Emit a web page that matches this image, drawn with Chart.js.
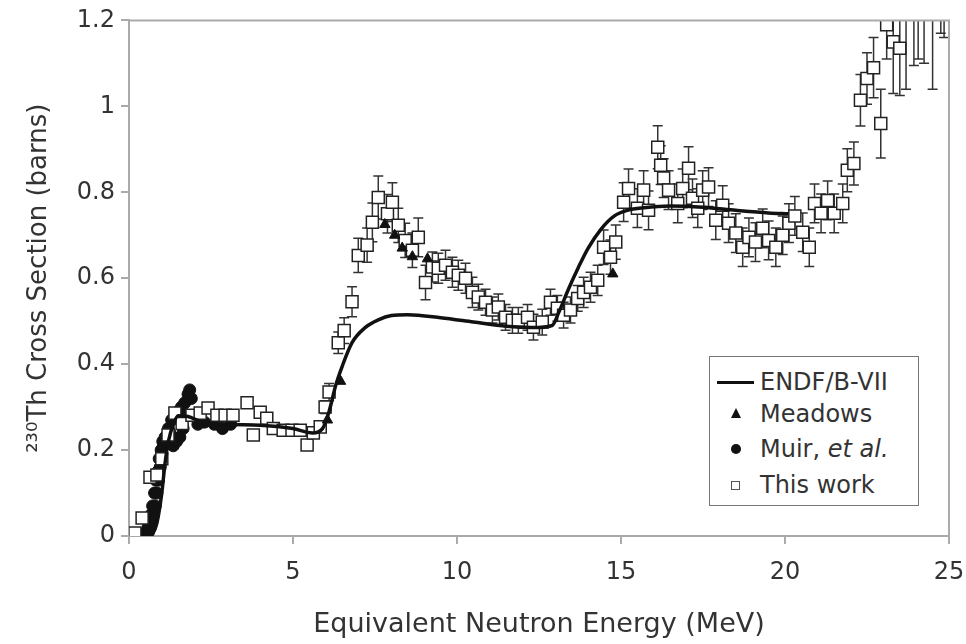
<!DOCTYPE html>
<html>
<head>
<meta charset="utf-8">
<script src="https://cdn.jsdelivr.net/npm/chart.js@4"></script>
<style>
  html, body { margin: 0; padding: 0; background: #fff; }
  #wrap { position: relative; width: 966px; height: 644px; }
  #legend {
    position: absolute; left: 709px; top: 356px; width: 208px; height: 148px;
    border: 1.5px solid #777; background: #fff;
    font-family: "DejaVu Sans", Verdana, sans-serif; font-size: 24px; color: #333;
  }
  .row { position: absolute; left: 50px; height: 30px; line-height: 30px; white-space: nowrap; }
  .sym { position: absolute; }
</style>
</head>
<body>
<div id="wrap">
  <canvas id="chart" width="966" height="644"></canvas>
  <div id="legend">
    <div class="sym" style="left:7px; top:24px; width:37px; height:3px; background:#111;"></div>
    <div class="row" style="top:10px;">ENDF/B-VII</div>
    <div class="sym" style="left:21px; top:51px; width:0; height:0; border-left:5px solid transparent; border-right:5px solid transparent; border-bottom:10px solid #111;"></div>
    <div class="row" style="top:42px;">Meadows</div>
    <div class="sym" style="left:21px; top:87px; width:10px; height:10px; border-radius:50%; background:#111;"></div>
    <div class="row" style="top:77px;">Muir, <i>et al.</i></div>
    <div class="sym" style="left:21px; top:124px; width:7px; height:7px; border:1.5px solid #555;"></div>
    <div class="row" style="top:113px;">This work</div>
  </div>
</div>
<script>
// ENDF/B-VII evaluation
const endfE = [0.5, 0.7, 0.85, 1.0, 1.1, 1.2, 1.35, 1.5, 1.8, 2.2, 3, 4, 5, 5.6, 5.9, 6.1, 6.3, 6.5, 6.8, 7.2, 7.6, 8.0, 8.5, 9.5, 10.5, 11.5, 12.3, 12.9, 13.1, 13.4, 13.7, 14.0, 14.4, 14.8, 15.2, 15.7, 16.5, 17.5, 18.5, 19.5, 20.1];
const endfXS = [0.0, 0.005, 0.03, 0.1, 0.17, 0.22, 0.26, 0.28, 0.278, 0.266, 0.26, 0.258, 0.25, 0.24, 0.25, 0.29, 0.35, 0.395, 0.45, 0.485, 0.503, 0.513, 0.515, 0.508, 0.498, 0.488, 0.485, 0.49, 0.52, 0.575, 0.625, 0.67, 0.715, 0.745, 0.758, 0.764, 0.768, 0.765, 0.758, 0.752, 0.75];

// Meadows
const meadowsE = [6.05, 6.45, 7.8, 8.1, 8.33, 8.64, 9.1, 14.75];
const meadowsXS = [0.27, 0.36, 0.725, 0.70, 0.67, 0.65, 0.645, 0.61];

// Muir, et al.
const muirE = [0.4, 0.45, 0.5, 0.52, 0.55, 0.58, 0.6, 0.62, 0.65, 0.68, 0.7, 0.72, 0.75, 0.78, 0.8, 0.82, 0.85, 0.88, 0.9, 0.92, 0.95, 0.98, 1.0, 1.03, 1.06, 1.1, 1.15, 1.2, 1.25, 1.3, 1.35, 1.4, 1.45, 1.5, 1.55, 1.6, 1.65, 1.7, 1.75, 1.8, 1.85, 1.9, 2.0, 2.1, 2.3, 2.6, 2.85, 3.1];
const muirXS = [0.0, 0.0, 0.0, 0.01, 0.005, 0.02, 0.01, 0.03, 0.02, 0.05, 0.035, 0.07, 0.05, 0.1, 0.07, 0.13, 0.1, 0.15, 0.13, 0.18, 0.16, 0.2, 0.19, 0.22, 0.21, 0.23, 0.22, 0.25, 0.24, 0.27, 0.21, 0.28, 0.22, 0.29, 0.23, 0.3, 0.25, 0.31, 0.28, 0.33, 0.34, 0.32, 0.28, 0.26, 0.265, 0.26, 0.25, 0.26];

// This work
const thisE = [0.18, 0.4, 0.64, 0.85, 1.0, 1.19, 1.4, 1.62, 1.92, 2.17, 2.41, 2.68, 2.93, 3.17, 3.6, 3.79, 4.0, 4.2, 4.4, 4.7, 4.97, 5.22, 5.43, 5.62, 5.83, 5.98, 6.1, 6.38, 6.56, 6.8,
  6.99, 7.26, 7.42, 7.6, 7.88, 8.03, 8.21, 8.42, 8.64, 8.82, 9.04, 9.25, 9.43, 9.65, 9.86, 10.04, 10.26, 10.47, 10.65, 10.87, 11.08, 11.26, 11.48, 11.69, 11.87, 12.15, 12.33, 12.6, 12.85, 13.06, 13.25, 13.46, 13.68, 13.86, 14.07, 14.29, 14.47, 14.68, 14.84,
  15.08, 15.23, 15.5, 15.69, 15.84, 16.12, 16.21, 16.3, 16.45, 16.73, 16.88, 17.06, 17.18, 17.34, 17.49, 17.67, 17.89, 18.1, 18.28, 18.5, 18.71, 18.9, 19.1, 19.32, 19.5, 19.72, 19.93, 20.12,
  20.3, 20.54, 20.74, 20.9, 21.1, 21.3, 21.5, 21.76, 21.9, 22.1, 22.3, 22.5, 22.7, 22.92, 23.1, 23.3, 23.5, 23.69, 23.93, 24.06, 24.24, 24.5, 24.75, 24.85];
const thisXS = [0.007, 0.042, 0.137, 0.142, 0.18, 0.235, 0.286, 0.262, 0.281, 0.286, 0.298, 0.281, 0.281, 0.281, 0.31, 0.235, 0.288, 0.274, 0.25, 0.246, 0.246, 0.246, 0.212, 0.24, 0.254, 0.3, 0.335, 0.45, 0.478, 0.545,
  0.653, 0.677, 0.73, 0.788, 0.75, 0.777, 0.723, 0.688, 0.665, 0.695, 0.59, 0.626, 0.623, 0.63, 0.614, 0.607, 0.6, 0.567, 0.556, 0.544, 0.526, 0.533, 0.509, 0.502, 0.502, 0.509, 0.486, 0.498, 0.544, 0.53, 0.514, 0.526, 0.553, 0.567, 0.579, 0.595, 0.672, 0.649, 0.684,
  0.777, 0.809, 0.763, 0.805, 0.758, 0.905, 0.863, 0.833, 0.805, 0.774, 0.809, 0.856, 0.786, 0.763, 0.805, 0.812, 0.735, 0.77, 0.728, 0.705, 0.672, 0.695, 0.684, 0.716, 0.688, 0.672, 0.7, 0.728,
  0.745, 0.707, 0.672, 0.774, 0.751, 0.781, 0.751, 0.774, 0.851, 0.867, 1.014, 1.065, 1.09, 0.96, 1.19, 1.15, 1.135, 1.26, 1.25, 1.28, 1.3, 1.3, 1.23, 1.24];
const thisErr = [0.01, 0.01, 0.01, 0.01, 0.01, 0.01, 0.01, 0.01, 0.01, 0.01, 0.01, 0.01, 0.01, 0.01, 0.01, 0.01, 0.01, 0.01, 0.01, 0.01, 0.01, 0.01, 0.01, 0.01, 0.01, 0.015, 0.02, 0.025, 0.03, 0.035,
  0.04, 0.04, 0.045, 0.05, 0.045, 0.045, 0.04, 0.04, 0.04, 0.045, 0.04, 0.035, 0.035, 0.035, 0.035, 0.035, 0.035, 0.035, 0.03, 0.03, 0.03, 0.03, 0.03, 0.03, 0.03, 0.03, 0.03, 0.03, 0.03, 0.03, 0.03, 0.03, 0.03, 0.035, 0.035, 0.035, 0.04, 0.04, 0.04,
  0.045, 0.045, 0.045, 0.045, 0.045, 0.05, 0.045, 0.045, 0.045, 0.045, 0.045, 0.05, 0.045, 0.045, 0.045, 0.045, 0.045, 0.045, 0.045, 0.045, 0.045, 0.045, 0.045, 0.045, 0.045, 0.045, 0.045, 0.045,
  0.045, 0.045, 0.045, 0.045, 0.045, 0.045, 0.045, 0.045, 0.05, 0.05, 0.06, 0.06, 0.07, 0.08, 0.08, 0.12, 0.11, 0.22, 0.155, 0.17, 0.2, 0.26, 0.06, 0.08];

const xTicks = [0, 5, 10, 15, 20, 25];
const yTicks = [0, 0.2, 0.4, 0.6, 0.8, 1.0, 1.2];
const yTickLabels = ["0", "0.2", "0.4", "0.6", "0.8", "1", "1.2"];

const pts = (xs, ys) => xs.map((x, i) => ({ x: x, y: ys[i] }));
const font = "'DejaVu Sans', Verdana, sans-serif";
const axisGray = "#aaa";

// error bars for "This work", drawn just before its squares
const errorBars = {
  id: "errorBars",
  beforeDatasetDraw(chart, args) {
    if (args.index !== 3) return;
    const { ctx, chartArea: a, scales } = chart;
    ctx.save();
    ctx.beginPath();
    ctx.rect(a.left, a.top, a.right - a.left, a.bottom - a.top);
    ctx.clip();
    ctx.strokeStyle = "#333";
    ctx.lineWidth = 1.5;
    ctx.beginPath();
    thisE.forEach((e, i) => {
      const px = scales.x.getPixelForValue(e);
      const hi = scales.y.getPixelForValue(thisXS[i] + thisErr[i]);
      const lo = scales.y.getPixelForValue(thisXS[i] - thisErr[i]);
      ctx.moveTo(px, hi); ctx.lineTo(px, lo);
      ctx.moveTo(px - 5, hi); ctx.lineTo(px + 5, hi);
      ctx.moveTo(px - 5, lo); ctx.lineTo(px + 5, lo);
    });
    ctx.stroke();
    ctx.restore();
  }
};

// light frame on top and right of the plot
const frame = {
  id: "frame",
  afterDraw(chart) {
    const { ctx, chartArea: a } = chart;
    ctx.save();
    ctx.strokeStyle = axisGray;
    ctx.lineWidth = 2;
    ctx.beginPath();
    ctx.moveTo(a.left, a.top); ctx.lineTo(a.right, a.top); ctx.lineTo(a.right, a.bottom);
    ctx.stroke();
    ctx.restore();
  }
};

new Chart(document.getElementById("chart"), {
  type: "scatter",
  data: {
    datasets: [
      {
        label: "ENDF/B-VII",
        data: pts(endfE, endfXS),
        showLine: true,
        borderColor: "#111",
        borderWidth: 3.5,
        pointRadius: 0,
        cubicInterpolationMode: "monotone",
        order: 0
      },
      {
        label: "Meadows",
        data: pts(meadowsE, meadowsXS),
        pointStyle: "triangle",
        pointRadius: 6,
        backgroundColor: "#111",
        borderColor: "#111",
        order: 1
      },
      {
        label: "Muir, et al.",
        data: pts(muirE, muirXS),
        pointStyle: "circle",
        pointRadius: 6,
        backgroundColor: "#111",
        borderColor: "#111",
        order: 3
      },
      {
        label: "This work",
        data: pts(thisE, thisXS),
        pointStyle: "rect",
        pointRadius: 8.5,
        backgroundColor: "#fff",
        borderColor: "#222",
        borderWidth: 1.5,
        clip: 0,
        order: 2
      }
    ]
  },
  options: {
    responsive: false,
    animation: false,
    layout: { padding: { left: 0, top: 20, right: 0, bottom: 0 } },
    plugins: { legend: { display: false }, tooltip: { enabled: false } },
    scales: {
      x: {
        type: "linear",
        min: 0,
        max: 25,
        afterBuildTicks: s => { s.ticks = xTicks.map(v => ({ value: v })); },
        afterFit: s => { s.height = 108; s.paddingLeft = 0; s.paddingRight = 17; },
        ticks: { color: "#333", font: { family: font, size: 24 }, padding: 14, maxRotation: 0 },
        grid: { drawOnChartArea: false, color: axisGray, tickColor: axisGray, tickLength: 8, lineWidth: 2 },
        border: { color: axisGray, width: 2 },
        title: {
          display: true,
          text: "Equivalent Neutron Energy (MeV)",
          color: "#333",
          font: { family: font, size: 27 },
          padding: { top: 0, bottom: 3 }
        }
      },
      y: {
        type: "linear",
        min: 0,
        max: 1.2,
        afterBuildTicks: s => { s.ticks = yTicks.map(v => ({ value: v })); },
        afterFit: s => { s.width = 129; },
        ticks: {
          color: "#333",
          font: { family: font, size: 24 },
          padding: 6,
          callback: (v, i) => yTickLabels[i]
        },
        grid: { drawOnChartArea: false, color: axisGray, tickColor: axisGray, tickLength: 8, lineWidth: 2 },
        border: { color: axisGray, width: 2 },
        title: {
          display: true,
          text: "²³⁰Th Cross Section (barns)",
          color: "#333",
          font: { family: font, size: 26 },
          padding: { top: 24, bottom: 0 }
        }
      }
    }
  },
  plugins: [errorBars, frame]
});
</script>
</body>
</html>
